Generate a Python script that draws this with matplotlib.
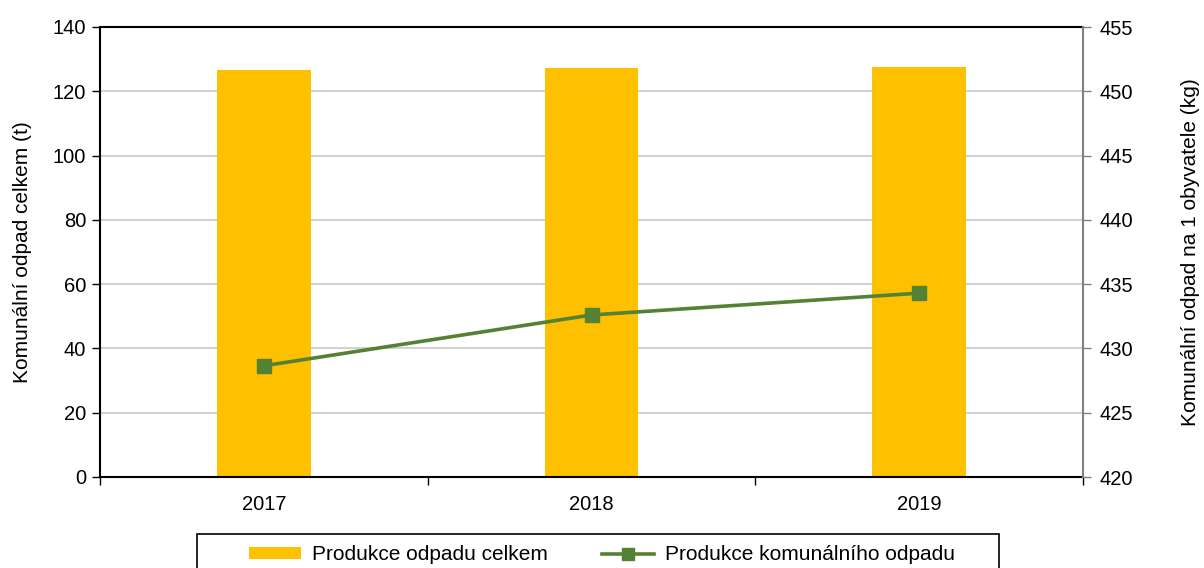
import numpy as np
import matplotlib.pyplot as plt
from matplotlib.patches import Patch, Rectangle
from matplotlib.lines import Line2D

plt.rcParams['font.family'] = ['Liberation Sans', 'DejaVu Sans']

# data
years = ['2017', '2018', '2019']
total_t = [126.6, 127.3, 127.7]            # left axis, bars
per_capita_kg = [428.65, 432.6, 434.3]     # right axis, line

bar_color = '#FFC000'
line_color = '#548235'

fig = plt.figure(figsize=(12.04, 5.68), dpi=100)
ax = fig.add_axes([100 / 1204, 91 / 568, 983 / 1204, 450 / 568])
ax2 = ax.twinx()

x = np.arange(len(years))

ax.bar(x, total_t, width=0.285, color=bar_color, zorder=2)
ax.set_xlim(-0.5, 2.5)
ax.set_ylim(0, 140)
ax.set_yticks(np.arange(0, 141, 20))
ax.yaxis.grid(True, color='#C8C8C8', linewidth=1.2, zorder=0)
ax.set_axisbelow(True)

ax.set_xticks(x)
ax.set_xticklabels(years)
ax.set_xticks([-0.5, 0.5, 1.5, 2.5], minor=True)
ax.tick_params(axis='x', which='major', length=0, pad=13, labelsize=14.5)
ax.tick_params(axis='x', which='minor', length=6, width=1, direction='out', color='black')
ax.tick_params(axis='y', length=6, width=1, direction='out', labelsize=14.5, pad=4)

for side in ['left', 'bottom', 'top']:
    ax.spines[side].set_color('black')
    ax.spines[side].set_linewidth(1.5)
ax.spines['right'].set_visible(False)

ax.set_ylabel('Komunální odpad celkem (t)', fontsize=15, labelpad=15)

ax2.plot(x, per_capita_kg, color=line_color, linewidth=2.6, marker='s',
         markersize=10, markerfacecolor=line_color, markeredgecolor=line_color, zorder=3)
ax2.set_ylim(420, 455)
ax2.set_yticks(np.arange(420, 456, 5))
ax2.tick_params(axis='y', length=6, width=1, direction='out', color='#808080',
                labelsize=14.5, pad=6)
for side in ['left', 'bottom', 'top']:
    ax2.spines[side].set_visible(False)
ax2.spines['right'].set_color('#808080')
ax2.spines['right'].set_linewidth(1.5)
ax2.set_ylabel('Komunální odpad na 1 obyvatele (kg)', fontsize=15, labelpad=34)

# legend: box runs past the bottom edge of the picture, as in the original
handles = [
    Patch(facecolor=bar_color, edgecolor='none'),
    Line2D([0], [0], color=line_color, linewidth=2.6, marker='s', markersize=8),
]
labels = ['Produkce odpadu celkem', 'Produkce komunálního odpadu']
fig.legend(handles, labels, loc='center left',
           bbox_to_anchor=(249 / 1204, 13 / 568),
           ncol=2, frameon=False, fontsize=15,
           handlelength=2.5, handleheight=0.55, handletextpad=0.5,
           borderpad=0, borderaxespad=0, columnspacing=2.64)
fig.patches.append(Rectangle((197 / 1204, -30 / 568), 802 / 1204, 64 / 568,
                             transform=fig.transFigure, fill=False,
                             edgecolor='black', linewidth=1.2))

fig.savefig('out.png', dpi=100)
